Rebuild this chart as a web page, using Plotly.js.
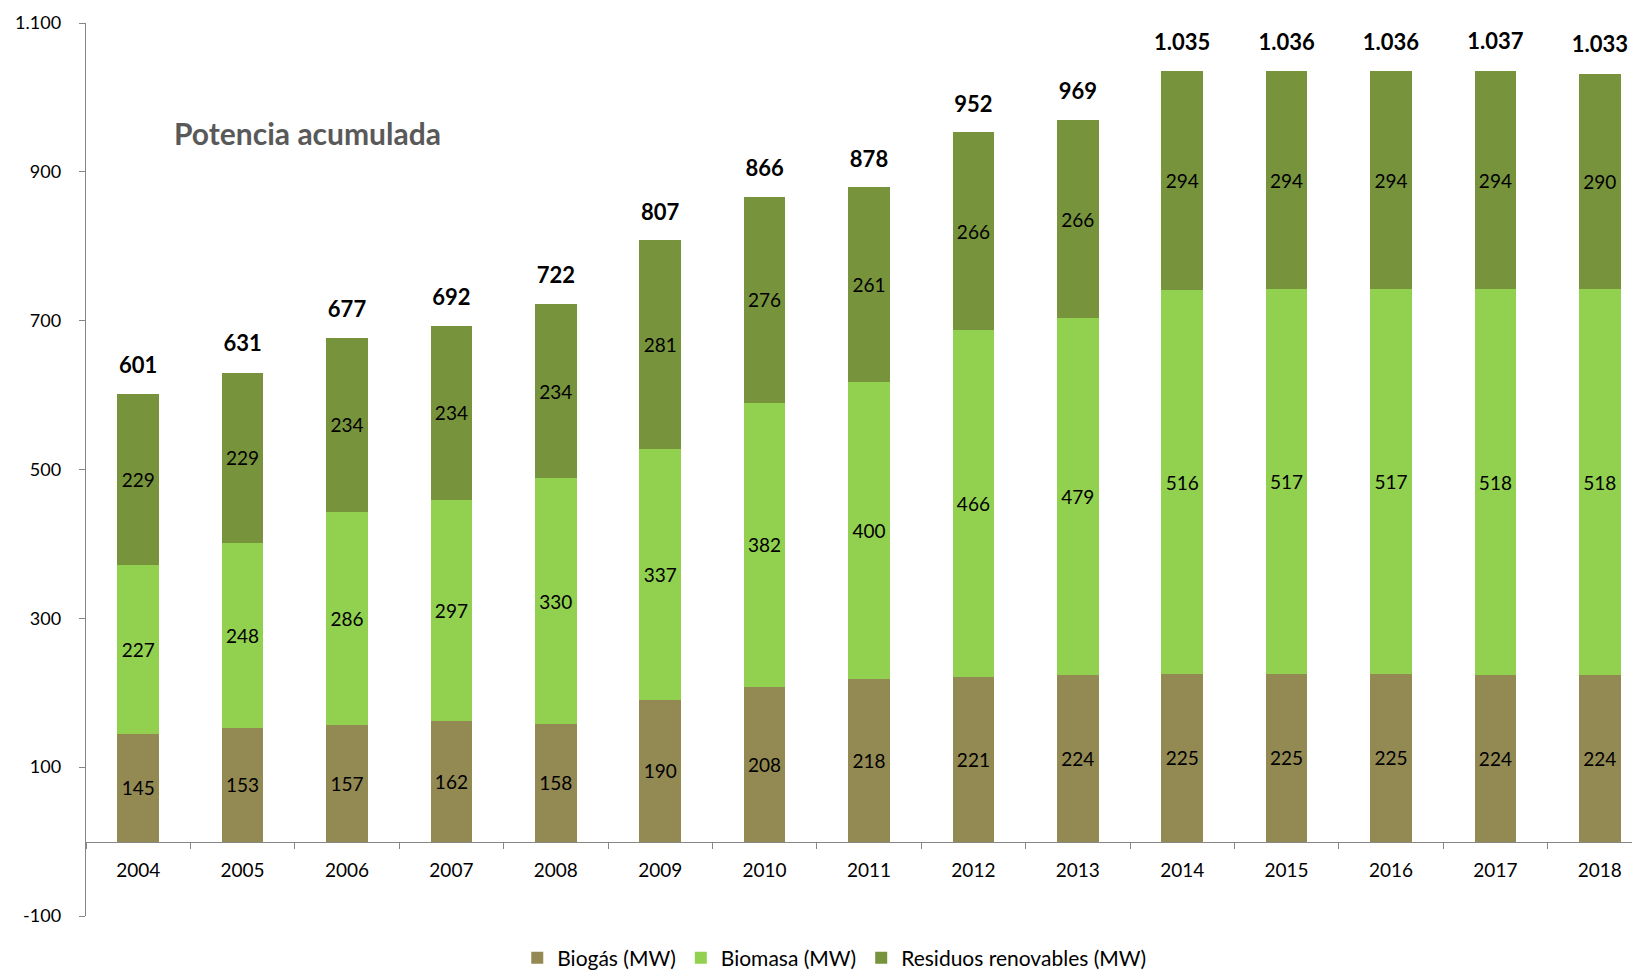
<!DOCTYPE html>
<html>
<head>
<meta charset="utf-8">
<script src="https://cdn.plot.ly/plotly-3.0.1.min.js"></script>
<style>
html,body{margin:0;padding:0;background:#fff;}
#chart{width:1632px;height:971px;}
</style>
</head>
<body>
<div id="chart"></div>
<script>
const years = ['2004','2005','2006','2007','2008','2009','2010','2011','2012','2013','2014','2015','2016','2017','2018'];
const biogas = [145,153,157,162,158,190,208,218,221,224,225,225,225,224,224];
const biomasa = [227,248,286,297,330,337,382,400,466,479,516,517,517,518,518];
const residuos = [229,229,234,234,234,281,276,261,266,266,294,294,294,294,290];
const totals = [601,631,677,692,722,807,866,878,952,969,1035,1036,1036,1037,1033];
const yTicks = [-100,100,300,500,700,900,1100];
const seriesNames = ['Biogás (MW)','Biomasa (MW)','Residuos renovables (MW)'];
const colors = ['#938953','#92D050','#77933C'];

const FONT = 'Lato, "Open Sans", sans-serif';
const yMin = -100, yMax = 1100;
const labelLift = 21; // axis units: lifts total labels above bar tops

function fmt(v){
  const s = String(Math.abs(v)).replace(/\B(?=(\d{3})+(?!\d))/g,'.');
  return (v<0?'-':'') + s;
}

function barTrace(vals, i){
  return {
    type:'bar', x:years, y:vals, name:seriesNames[i],
    marker:{color:colors[i], line:{width:0}},
    text:vals.map(String), textposition:'inside', insidetextanchor:'middle',
    textangle:0, constraintext:'none',
    insidetextfont:{family:FONT, size:19, color:'#000'},
    hoverinfo:'x+y+name'
  };
}

const data = [barTrace(biogas,0), barTrace(biomasa,1), barTrace(residuos,2)];
data.push({
  type:'scatter', mode:'text', x:years, y:totals, yaxis:'y2',
  text:totals.map(v=>'<b>'+fmt(v)+'</b>'),
  textposition:'top center', cliponaxis:false, showlegend:false,
  textfont:{family:FONT, size:22, color:'#000'}, hoverinfo:'skip'
});

const layout = {
  width:1632, height:971,
  margin:{l:86, r:0, t:23, b:55, pad:0, autoexpand:false},
  paper_bgcolor:'#fff', plot_bgcolor:'#fff',
  barmode:'stack', bargap:0.6,
  showlegend:true,
  legend:{orientation:'h', x:0.484, xanchor:'center', yref:'container', y:(971-958)/971, yanchor:'middle',
    font:{family:FONT, size:21, color:'#000'}, tracegroupgap:0,
    traceorder:'normal'},
  font:{family:FONT, color:'#000'},
  xaxis:{
    type:'category', range:[-0.5, -0.5 + 1546/104.4],
    anchor:'free', position:(0 - yMin)/(yMax - yMin),
    showline:true, linecolor:'#868686', linewidth:1.3,
    ticks:'outside', ticklen:6, tickcolor:'#868686', tickson:'boundaries',
    tickfont:{family:FONT, size:19, color:'#000'}, ticklabelstandoff:11,
    showgrid:false, zeroline:false, fixedrange:true
  },
  yaxis:{
    range:[yMin, yMax], tickmode:'array', tickvals:yTicks, ticktext:yTicks.map(fmt),
    showline:true, linecolor:'#868686', linewidth:1.3,
    ticks:'outside', ticklen:6, tickcolor:'#868686',
    tickfont:{family:FONT, size:18, color:'#000'},
    showgrid:false, zeroline:false, ticklabelstandoff:14
  },
  yaxis2:{
    overlaying:'y', range:[yMin - labelLift, yMax - labelLift], visible:false
  },
  annotations:[{
    xref:'paper', yref:'paper', x:(172-86)/1546, y:(916-133)/893,
    xanchor:'left', yanchor:'middle', showarrow:false,
    text:'<b>Potencia acumulada</b>',
    font:{family:FONT, size:30, color:'#595959'}
  }]
};

Plotly.newPlot('chart', data, layout, {displayModeBar:false, staticPlot:true});
</script>
</body>
</html>
